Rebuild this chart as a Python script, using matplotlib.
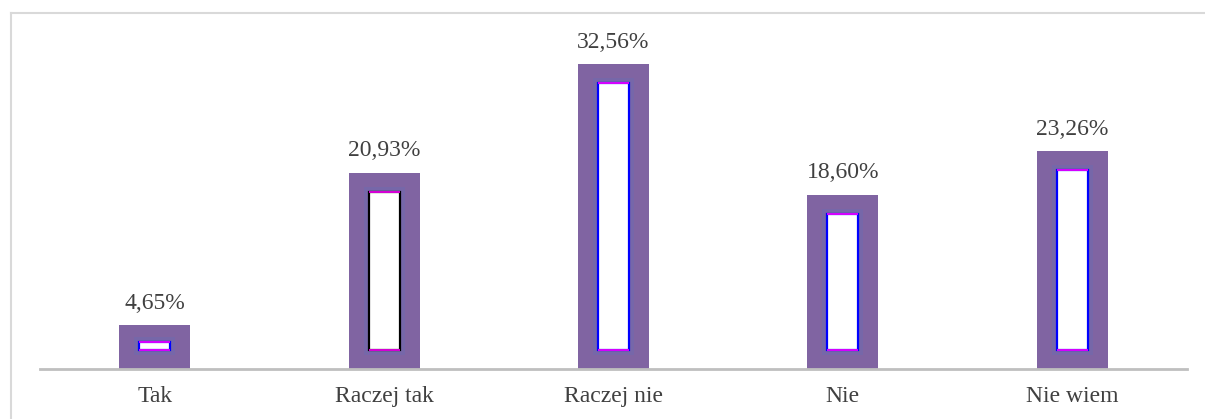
import matplotlib.pyplot as plt
from matplotlib.lines import Line2D
import numpy as np

# datos de la encuesta
kategorie = ['Tak', 'Raczej tak', 'Raczej nie', 'Nie', 'Nie wiem']
wartosci = [4.65, 20.93, 32.56, 18.60, 23.26]
etykiety = ['4,65%', '20,93%', '32,56%', '18,60%', '23,26%']
krawedzie = ['blue', 'black', 'blue', 'blue', 'blue']

fioletowy = '#8064A2'
szary_tekst = '#404040'

fig = plt.figure(figsize=(12.05, 4.19), dpi=100)
ax = fig.add_axes([40 / 1205, 50 / 419, 1147 / 1205, 327.6 / 419])

x = np.arange(len(kategorie))
ymax = 35
px_y = ymax / 327.6          # jednostki danych na piksel (oś y)
px_x = 5 / 1147              # jednostki danych na piksel (oś x)
szer = 71 * px_x
wciecie_x = 20 * px_x
wciecie_y = 19 * px_y

# zewnętrzny fioletowy słupek
ax.bar(x, wartosci, width=szer, color=fioletowy, zorder=2)

# rozmyta obwódka wokół środka
wewn_h = [max(v - 2 * wciecie_y, 8 * px_y) for v in wartosci]
ax.bar(x, [h + 10 * px_y for h in wewn_h], bottom=wciecie_y - 5 * px_y,
       width=szer - 2 * wciecie_x + 10 * px_x, color='#6E6AB0', alpha=0.5,
       zorder=3, linewidth=0)

# biały środek
ax.bar(x, wewn_h, bottom=wciecie_y, width=szer - 2 * wciecie_x,
       color='white', edgecolor=krawedzie, linewidth=1.6, zorder=4)
for xi, h in zip(x, wewn_h):
    ax.hlines([wciecie_y, wciecie_y + h], xi - (szer / 2 - wciecie_x),
              xi + (szer / 2 - wciecie_x), color='magenta', lw=1.2, zorder=5)

# etykiety wartości
for xi, v, t in zip(x, wartosci, etykiety):
    ax.annotate(t, (xi, v), xytext=(0, 12), textcoords='offset points',
                ha='center', va='baseline', fontsize=17,
                family='Liberation Serif', color=szary_tekst)

ax.set_xlim(-0.5, 4.5)
ax.set_ylim(0, ymax)
ax.set_xticks(x)
ax.set_xticklabels(kategorie, fontsize=17, family='Liberation Serif', color=szary_tekst)
ax.tick_params(axis='x', length=0, pad=12)
ax.set_yticks([])
for s in ['top', 'right', 'left']:
    ax.spines[s].set_visible(False)
ax.spines['bottom'].set_color('#BFBFBF')
ax.spines['bottom'].set_linewidth(2)
ax.spines['bottom'].set_zorder(6)

# ramka wykresu
fig.add_artist(Line2D([11 / 1205, 11 / 1205], [0, 1 - 13 / 419], color='#D9D9D9', lw=1.5))
fig.add_artist(Line2D([11 / 1205, 1], [1 - 13 / 419, 1 - 13 / 419], color='#D9D9D9', lw=1.5))

plt.savefig('out.png', dpi=100)
plt.close()
